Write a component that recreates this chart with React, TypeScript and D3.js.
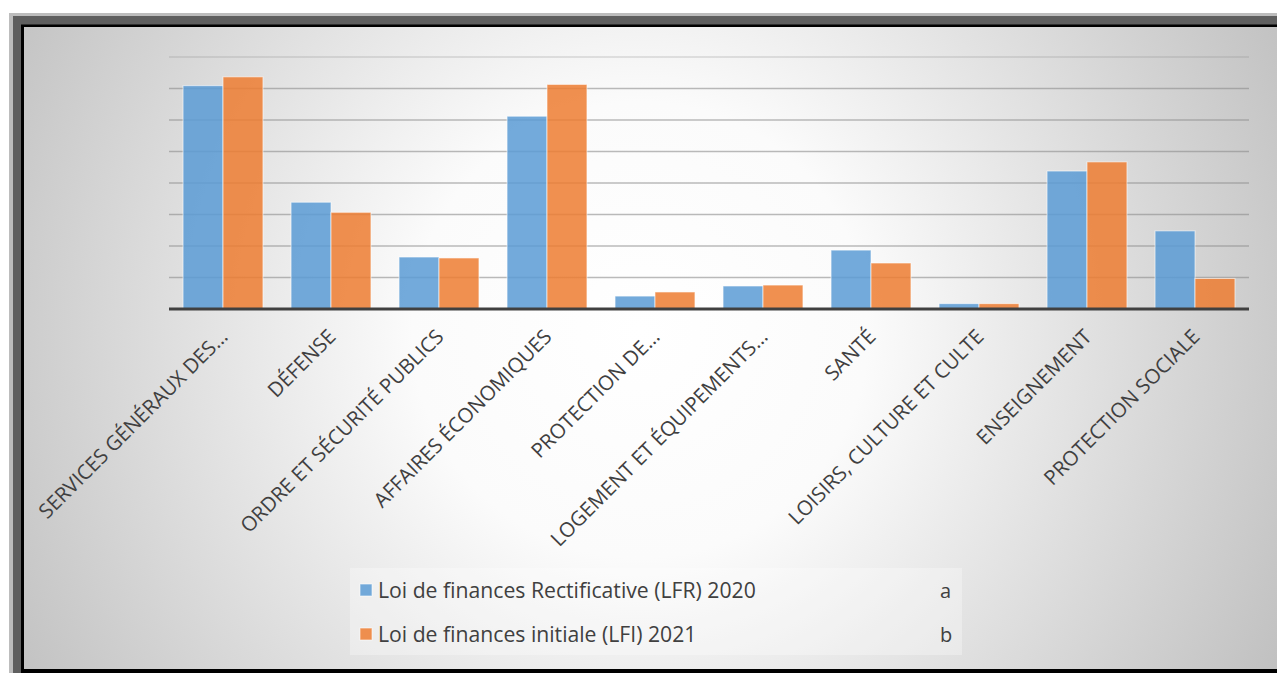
import React from "react";
import * as d3 from "d3";

const categories = [
  "SERVICES GÉNÉRAUX DES…",
  "DÉFENSE",
  "ORDRE ET SÉCURITÉ PUBLICS",
  "AFFAIRES ÉCONOMIQUES",
  "PROTECTION DE…",
  "LOGEMENT ET ÉQUIPEMENTS…",
  "SANTÉ",
  "LOISIRS, CULTURE ET CULTE",
  "ENSEIGNEMENT",
  "PROTECTION SOCIALE",
];
const lfr2020 = [7.09, 3.39, 1.65, 6.12, 0.41, 0.73, 1.87, 0.17, 4.38, 2.48];
const lfi2021 = [7.37, 3.07, 1.62, 7.13, 0.54, 0.76, 1.46, 0.17, 4.67, 0.97];
const seriesNames = ["Loi de finances Rectificative (LFR) 2020", "Loi de finances initiale (LFI) 2021"];
const seriesTags = ["a", "b"];
const gridTicks = [1, 2, 3, 4, 5, 6, 7, 8];

const W = 1277;
const H = 673;
const colors = ["#5b9bd5", "#ed7d31"];
const font = "'Open Sans', sans-serif";

export default function App() {
  const x0 = d3.scaleBand<string>().domain(categories).range([169, 1249]).paddingInner(0.26).paddingOuter(0.13);
  const x1 = d3.scaleBand<number>().domain([0, 1]).range([0, x0.bandwidth()]);
  const y = d3.scaleLinear().domain([0, 8]).range([309, 57]);
  const series = [lfr2020, lfi2021];

  return (
    <svg width={W} height={H} style={{ position: "absolute", left: 0, top: 0 }}>
      <defs>
        <radialGradient id="bg" cx="640" cy="330" r="760" gradientUnits="userSpaceOnUse">
          <stop offset="0" stopColor="#ffffff" />
          <stop offset="0.3" stopColor="#fbfbfb" />
          <stop offset="1" stopColor="#bcbcbc" />
        </radialGradient>
      </defs>
      <rect x={9} y={13} width={W - 9} height={H - 13} fill="#bdbdbd" />
      <rect x={13} y={16} width={W - 13} height={H - 16} fill="#5f5f5f" />
      <rect x={21} y={24.5} width={W - 21} height={H - 24.5} fill="#000" />
      <rect x={24} y={27} width={W - 24} height={642} fill="url(#bg)" />

      {gridTicks.map((t) => (
        <line key={t} x1={169} x2={1249} y1={y(t)} y2={y(t)} stroke="#8c8c8c" strokeOpacity={t === 8 ? 0.3 : 0.6} strokeWidth={1.5} />
      ))}

      {categories.map((c, i) => (
        <g key={c} transform={`translate(${x0(c)},0)`}>
          {series.map((s, k) => (
            <rect
              key={k}
              x={x1(k)}
              y={y(s[i])}
              width={x1.bandwidth()}
              height={y(0) - y(s[i])}
              fill={colors[k]}
              fillOpacity={0.85}
              stroke="#ffffff"
              strokeOpacity={0.6}
              strokeWidth={1}
            />
          ))}
        </g>
      ))}

      <line x1={169} x2={1249} y1={y(0)} y2={y(0)} stroke="#404040" strokeWidth={3} />

      {categories.map((c) => {
        const cx = (x0(c) ?? 0) + x0.bandwidth() / 2;
        return (
          <text
            key={c}
            transform={`translate(${cx + 6},${338}) rotate(-45)`}
            textAnchor="end"
            fontFamily={font}
            fontSize={20.4}
            fill="#404040"
          >
            {c}
          </text>
        );
      })}

      <rect x={350} y={568} width={612} height={87} fill="#ffffff" fillOpacity={0.3} />
      {seriesNames.map((n, k) => (
        <g key={n} transform={`translate(360,${590 + k * 44})`}>
          <rect x={0} y={-6} width={12} height={12} fill={colors[k]} fillOpacity={0.85} stroke="#fff" strokeOpacity={0.6} />
          <text x={18} y={7.5} fontFamily={font} fontSize={21.2} fill="#404040">
            {n}
          </text>
          <text x={580} y={7.5} fontFamily={font} fontSize={20} fill="#404040">
            {seriesTags[k]}
          </text>
        </g>
      ))}
    </svg>
  );
}
